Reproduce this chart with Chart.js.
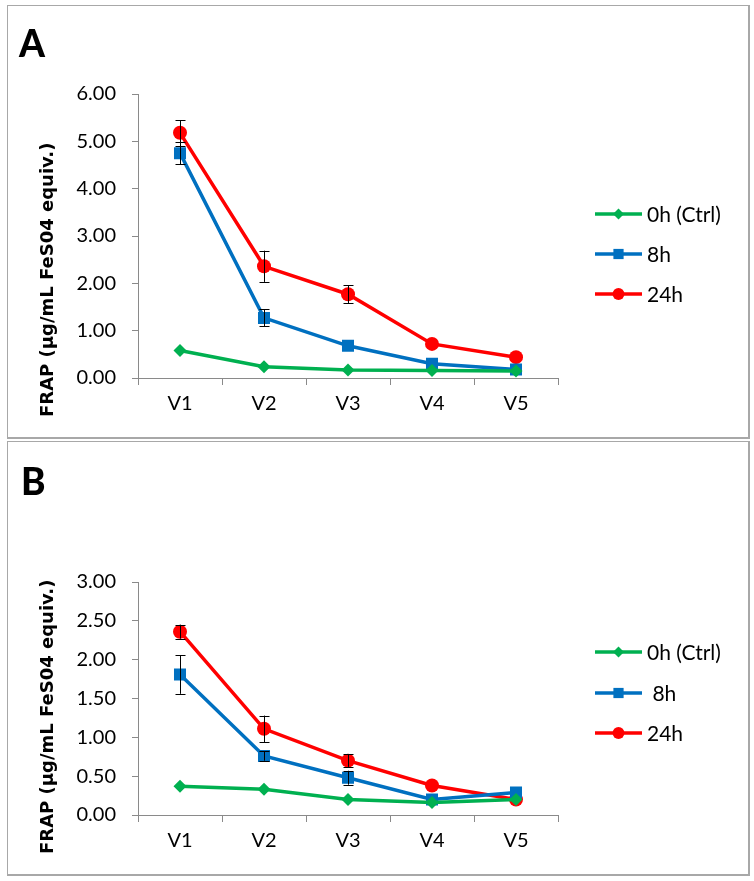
<!DOCTYPE html>
<html>
<head>
<meta charset="utf-8">
<script src="https://cdn.jsdelivr.net/npm/chart.js@4.4.1/dist/chart.umd.min.js"></script>
<style>
  html, body { margin: 0; padding: 0; background: #ffffff; }
  body { width: 754px; height: 881px; position: relative; overflow: hidden; }
  .panel { position: absolute; left: 7px; width: 740px; border: 1px solid #a8a8a8; border-right-width: 2px; border-bottom-width: 2px; background: #fff; }
  .panel canvas { position: absolute; left: 0; top: 0; }
  .letter { position: absolute; font-family: Lato, "Liberation Sans", sans-serif; font-weight: 900; font-size: 37px; line-height: 37px; color: #000; }
</style>
</head>
<body>
<div class="panel" id="pA" style="top:5px;height:431px;">
  <canvas id="cA" width="740" height="431" style="width:740px;height:431px"></canvas>
  <div class="letter" style="left:11px;top:18px;">A</div>
</div>
<div class="panel" id="pB" style="top:441px;height:432px;">
  <canvas id="cB" width="740" height="432" style="width:740px;height:432px"></canvas>
  <div class="letter" style="left:13px;top:20px;">B</div>
</div>
<script>
// ---------- data ----------
const categories = ["V1", "V2", "V3", "V4", "V5"];
const seriesNames = ["0h (Ctrl)", "8h", "24h"];
const seriesNamesB = ["0h (Ctrl)", " 8h", "24h"];

// Panel A
const a0h  = [0.58, 0.24, 0.17, 0.16, 0.15];
const a8h  = [4.75, 1.27, 0.68, 0.30, 0.18];
const a24h = [5.18, 2.36, 1.77, 0.72, 0.44];
const a0hErr  = [0.03, 0.02, 0.02, 0.02, 0.02];
const a8hErr  = [0.23, 0.18, 0.05, 0.04, 0.03];
const a24hErr = [0.27, 0.33, 0.19, 0.06, 0.04];

// Panel B
const b0h  = [0.37, 0.33, 0.20, 0.16, 0.20];
const b8h  = [1.81, 0.76, 0.48, 0.20, 0.29];
const b24h = [2.36, 1.11, 0.70, 0.38, 0.20];
const b0hErr  = [0.01, 0.01, 0.01, 0.01, 0.01];
const b8hErr  = [0.25, 0.06, 0.09, 0.02, 0.02];
const b24hErr = [0.09, 0.17, 0.08, 0.02, 0.02];

const yTitle = "FRAP (µg/mL FeS04 equiv.)";

// ---------- styles ----------
const colors = ["#00b050", "#0070c0", "#ff0000"];
const markers = ["rectRot", "rect", "circle"];
const markerRadius = [6.5, 8.5, 7];
const tickFont = { family: "Lato, 'Open Sans', sans-serif", size: 20 };
const axisColor = "#8a8a8a";

function drawMarker(ctx, style, x, y, r, color) {
  ctx.save();
  ctx.fillStyle = color;
  ctx.beginPath();
  if (style === "circle") {
    ctx.arc(x, y, r, 0, Math.PI * 2);
  } else if (style === "rect") {
    const s = r * Math.SQRT1_2;
    ctx.rect(x - s, y - s, 2 * s, 2 * s);
  } else {
    ctx.moveTo(x, y - r); ctx.lineTo(x + r, y); ctx.lineTo(x, y + r); ctx.lineTo(x - r, y); ctx.closePath();
  }
  ctx.fill();
  ctx.restore();
}

const errorBarPlugin = {
  id: "errorBars",
  afterDatasetsDraw(chart) {
    const ctx = chart.ctx;
    const yScale = chart.scales.y;
    ctx.save();
    ctx.strokeStyle = "#000";
    ctx.lineWidth = 1;
    chart.data.datasets.forEach((ds, di) => {
      const meta = chart.getDatasetMeta(di);
      meta.data.forEach((pt, i) => {
        const e = ds.errors[i];
        if (!e) return;
        const x = Math.round(pt.x) + 0.5;
        const yTop = yScale.getPixelForValue(ds.data[i] + e);
        const yBot = yScale.getPixelForValue(ds.data[i] - e);
        if (Math.abs(yBot - yTop) < 7) return;
        ctx.beginPath();
        ctx.moveTo(x, yTop); ctx.lineTo(x, yBot);
        ctx.moveTo(x - 5, Math.round(yTop) + 0.5); ctx.lineTo(x + 5, Math.round(yTop) + 0.5);
        ctx.moveTo(x - 5, Math.round(yBot) + 0.5); ctx.lineTo(x + 5, Math.round(yBot) + 0.5);
        ctx.stroke();
      });
    });
    ctx.restore();
  }
};

const legendPlugin = {
  id: "sideLegend",
  afterDraw(chart, args, opts) {
    const ctx = chart.ctx;
    ctx.save();
    ctx.font = "21px Lato, 'Open Sans', sans-serif";
    ctx.textBaseline = "middle";
    ctx.fillStyle = "#000";
    chart.data.datasets.forEach((ds, i) => {
      const y = opts.ys[i];
      ctx.strokeStyle = ds.borderColor;
      ctx.lineWidth = 3.5;
      ctx.beginPath();
      ctx.moveTo(opts.x0, y); ctx.lineTo(opts.x1, y);
      ctx.stroke();
      drawMarker(ctx, markers[i], (opts.x0 + opts.x1) / 2, y, markerRadius[i] * 0.85, ds.borderColor);
      ctx.fillText(ds.label, opts.x1 + 5, y + 1);
    });
    ctx.restore();
  }
};

// rotated y-axis title placed from the bottom end, reading upward
const yTitlePlugin = {
  id: "yTitle",
  afterDraw(chart, args, opts) {
    const ctx = chart.ctx;
    ctx.save();
    ctx.translate(opts.x, opts.bottom);
    ctx.rotate(-Math.PI / 2);
    ctx.font = "bold 18px 'DejaVu Sans', Verdana, sans-serif";
    ctx.fillStyle = "#000";
    ctx.textAlign = "left";
    ctx.textBaseline = "alphabetic";
    ctx.fillText(opts.text, 0, 0);
    ctx.restore();
  }
};

function makeChart(canvasId, names, values, errs, yMax, yStep, padTop, xAxisH, legendYs, titleBottom) {
  const datasets = values.map((v, i) => ({
    label: names[i],
    data: v,
    errors: errs[i],
    borderColor: colors[i],
    backgroundColor: colors[i],
    borderWidth: 3.5,
    pointStyle: markers[i],
    pointRadius: markerRadius[i],
    pointBorderWidth: 0,
    pointHoverRadius: markerRadius[i],
    tension: 0
  }));
  return new Chart(document.getElementById(canvasId), {
    type: "line",
    data: { labels: categories, datasets },
    plugins: [errorBarPlugin, legendPlugin, yTitlePlugin],
    options: {
      responsive: false,
      animation: false,
      events: [],
      layout: { padding: { top: padTop, right: 190, left: 0, bottom: 0 } },
      plugins: {
        legend: { display: false },
        tooltip: { enabled: false },
        sideLegend: { x0: 587, x1: 634, ys: legendYs },
        yTitle: { text: yTitle, x: 45, bottom: titleBottom }
      },
      scales: {
        x: {
          offset: true,
          grid: { offset: true, drawOnChartArea: false, drawTicks: true, tickLength: 7, color: axisColor, lineWidth: 1 },
          border: { display: true, color: axisColor, width: 1 },
          ticks: { font: tickFont, color: "#000", padding: 7, maxRotation: 0 },
          afterFit(scale) { scale.height = xAxisH; }
        },
        y: {
          min: 0, max: yMax,
          grid: { drawOnChartArea: false, drawTicks: true, tickLength: 6, color: axisColor, lineWidth: 1 },
          border: { display: true, color: axisColor, width: 1 },
          ticks: { stepSize: yStep, font: tickFont, color: "#000", padding: 16, callback: v => Number(v).toFixed(2) },
          afterFit(scale) { scale.width = 130; }
        }
      }
    }
  });
}

makeChart("cA", seriesNames, [a0h, a8h, a24h], [a0hErr, a8hErr, a24hErr], 6, 1, 88, 59, [208, 248, 288], 411);
makeChart("cB", seriesNamesB, [b0h, b8h, b24h], [b0hErr, b8hErr, b24hErr], 3, 0.5, 140, 59, [210, 251, 291], 412);
</script>
</body>
</html>
